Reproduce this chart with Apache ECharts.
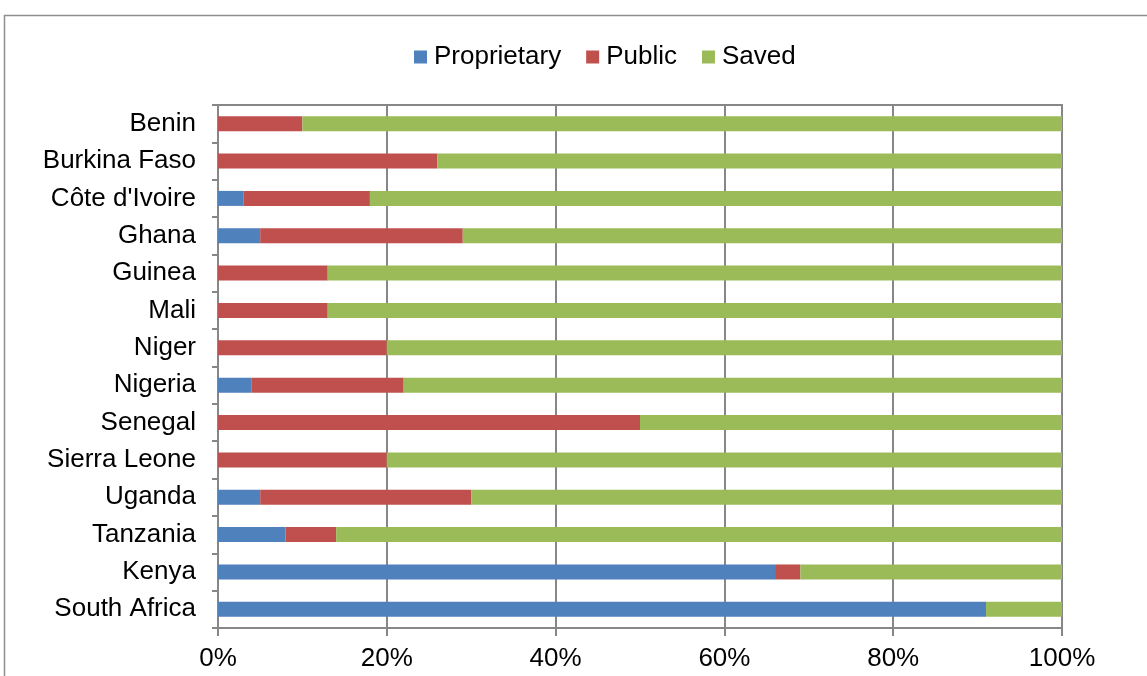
<!DOCTYPE html>
<html><head><meta charset="utf-8">
<script src="https://cdn.jsdelivr.net/npm/echarts@6/dist/echarts.min.js"></script>
<style>html,body{margin:0;padding:0;background:#fff}#c{width:1147px;height:676px}</style>
</head><body><div id="c"></div>
<script>
const categories = ["Benin","Burkina Faso","Côte d'Ivoire","Ghana","Guinea","Mali","Niger","Nigeria","Senegal","Sierra Leone","Uganda","Tanzania","Kenya","South Africa"];
const proprietary = [0,0,3,5,0,0,0,4,0,0,5,8,66,91];
const publicVals = [10,26,15,24,13,13,20,18,50,20,25,6,3,0];
const saved = [90,74,82,71,87,87,80,78,50,80,70,86,31,9];
const xTicks = [0,20,40,60,80,100];

const chart = echarts.init(document.getElementById('c'));
const font = 'Liberation Sans, Arial, sans-serif';
const mk = (name, data, color) => ({
  name, type: 'bar', stack: 'total', data, barWidth: 15,
  itemStyle: { color }, emphasis: { disabled: true }
});
chart.setOption({
  animation: false,
  graphic: [{ type: 'rect', shape: { x: 4.5, y: 15.5, width: 1200, height: 700 },
    style: { fill: 'none', stroke: '#8e8e8e', lineWidth: 1.5 }, silent: true }],
  legend: {
    top: 44, left: 414, padding: 0, itemWidth: 13, itemHeight: 13, itemGap: 25,
    icon: 'rect',
    textStyle: { fontFamily: font, fontSize: 26, color: '#000', padding: [0,0,0,2] },
    data: ['Proprietary','Public','Saved']
  },
  grid: { left: 218, right: 85, top: 105, bottom: 48, show: true, borderColor: '#878787', borderWidth: 2 },
  xAxis: {
    type: 'value', min: xTicks[0], max: xTicks[xTicks.length-1], interval: 20,
    axisLabel: { formatter: v => v + '%', fontFamily: font, fontSize: 26, color: '#000', margin: 18 },
    axisLine: { show: true, lineStyle: { color: '#878787', width: 2 } },
    axisTick: { show: true, length: 8, lineStyle: { color: '#878787', width: 2 } },
    splitLine: { show: true, lineStyle: { color: '#878787', width: 2 } }
  },
  yAxis: {
    type: 'category', data: categories, inverse: true,
    axisLabel: { fontFamily: font, fontSize: 26, color: '#000', margin: 22 },
    axisLine: { show: true, lineStyle: { color: '#878787', width: 2 } },
    axisTick: { show: true, length: 6, lineStyle: { color: '#878787', width: 2 } }
  },
  series: [
    mk('Proprietary', proprietary, '#4f81bd'),
    mk('Public', publicVals, '#c0504d'),
    mk('Saved', saved, '#9bbb59')
  ]
});
</script></body></html>
